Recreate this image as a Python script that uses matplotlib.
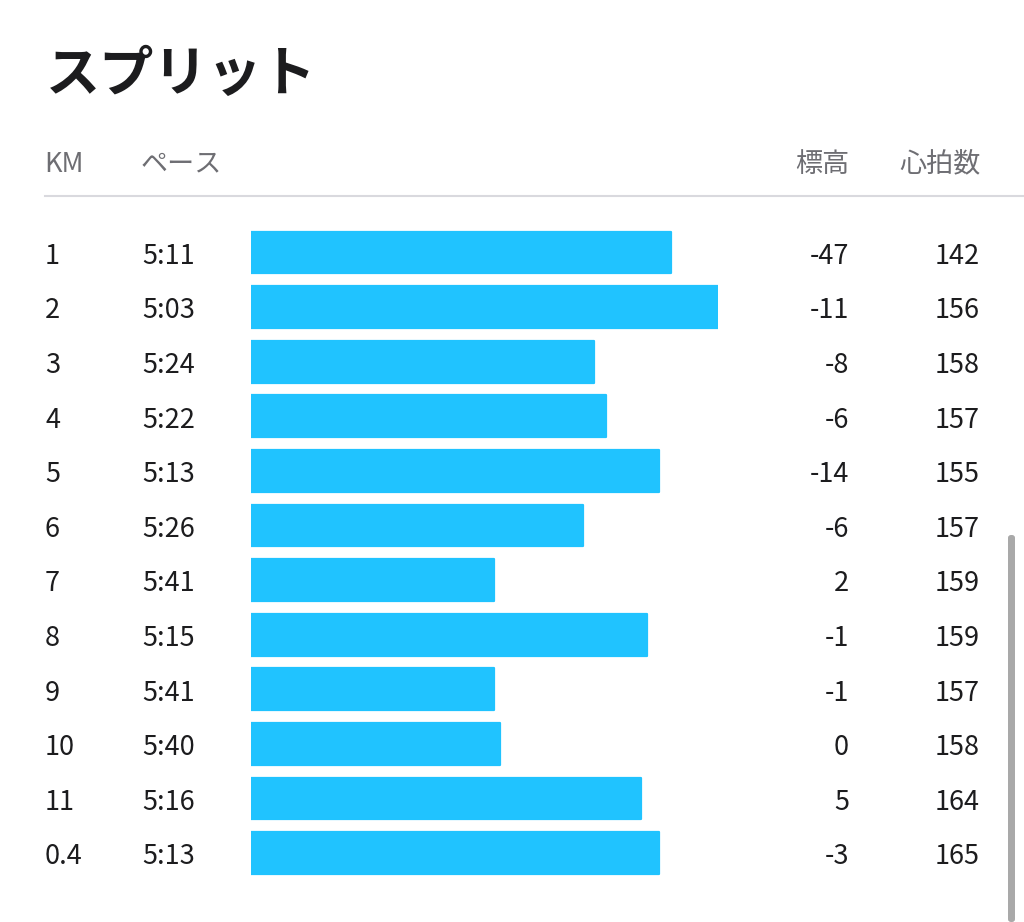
import matplotlib.pyplot as plt
import matplotlib.transforms as mtransforms
from matplotlib.patches import FancyBboxPatch

plt.rcParams['font.family'] = ['Noto Sans CJK JP', 'DejaVu Sans']

km = ['1', '2', '3', '4', '5', '6', '7', '8', '9', '10', '11', '0.4']
pace = ['5:11', '5:03', '5:24', '5:22', '5:13', '5:26', '5:41', '5:15', '5:41', '5:40', '5:16', '5:13']
elev = [-47, -11, -8, -6, -14, -6, 2, -1, -1, 0, 5, -3]
hr = [142, 156, 158, 157, 155, 157, 159, 159, 157, 158, 164, 165]
headers = ['KM', 'ペース', '標高', '心拍数']

pace_s = [int(p.split(':')[0]) * 60 + int(p.split(':')[1]) for p in pace]
slow_end = 382.3  # pace at which a bar would have zero length
fast_end = 303.0

W, H = 1024, 922
fig = plt.figure(figsize=(W / 100, H / 100), dpi=100)
fig.patch.set_facecolor('white')

# bar axes: x 251..718 px, rows centred 252.5..853 px
row_h = (853 - 252.5) / 11
top_px = 252.5 - row_h / 2
bot_px = 853 + row_h / 2
ax = fig.add_axes([251 / W, 1 - bot_px / H, 467 / W, (bot_px - top_px) / H])
ax.set_xlim(slow_end, fast_end)
ax.set_ylim(len(km) - 0.5, -0.5)
ax.axis('off')

ys = list(range(len(km)))
ax.barh(ys, [p - slow_end for p in pace_s], left=slow_end, height=0.765,
        color='#20c3ff', edgecolor='#20c3ff', linewidth=1.6, joinstyle='round')

# row texts: x in figure pixels, y in row units
tr = mtransforms.blended_transform_factory(fig.transFigure, ax.transData)
tk = dict(transform=tr, fontsize=19.5, color='#1c1c1e', va='center')
for i in ys:
    ax.text(45 / W, i + 0.07, km[i], ha='left', **tk)
    ax.text(142 / W, i + 0.07, pace[i], ha='left', **tk)
    ax.text(849 / W, i + 0.07, str(elev[i]), ha='right', **tk)
    ax.text(980 / W, i + 0.07, str(hr[i]), ha='right', **tk)

# title and headers
fig.text(46 / W, 1 - 75 / H, 'スプリット', fontsize=39, fontweight='bold',
         color='#1c1c1e', ha='left', va='center')
hk = dict(fontsize=19.5, color='#6e6e73', va='center')
fig.text(44 / W, 1 - 164 / H, headers[0], ha='left', **hk)
fig.text(141 / W, 1 - 164 / H, headers[1], ha='left', **hk)
fig.text(849 / W, 1 - 164 / H, headers[2], ha='right', **hk)
fig.text(981 / W, 1 - 164 / H, headers[3], ha='right', **hk)

# separator line
fig.add_artist(plt.Line2D([45 / W, 1], [1 - 196 / H, 1 - 196 / H],
                          color='#d9d9de', linewidth=1.5, transform=fig.transFigure))

# scrollbar
fig.add_artist(FancyBboxPatch((1008 / W, 0), 7 / W, (H - 535) / H,
                              boxstyle='round,pad=0,rounding_size=0.003',
                              facecolor='#a9a9a9', edgecolor='none',
                              transform=fig.transFigure))

fig.savefig('out.png', dpi=100, facecolor='white')
